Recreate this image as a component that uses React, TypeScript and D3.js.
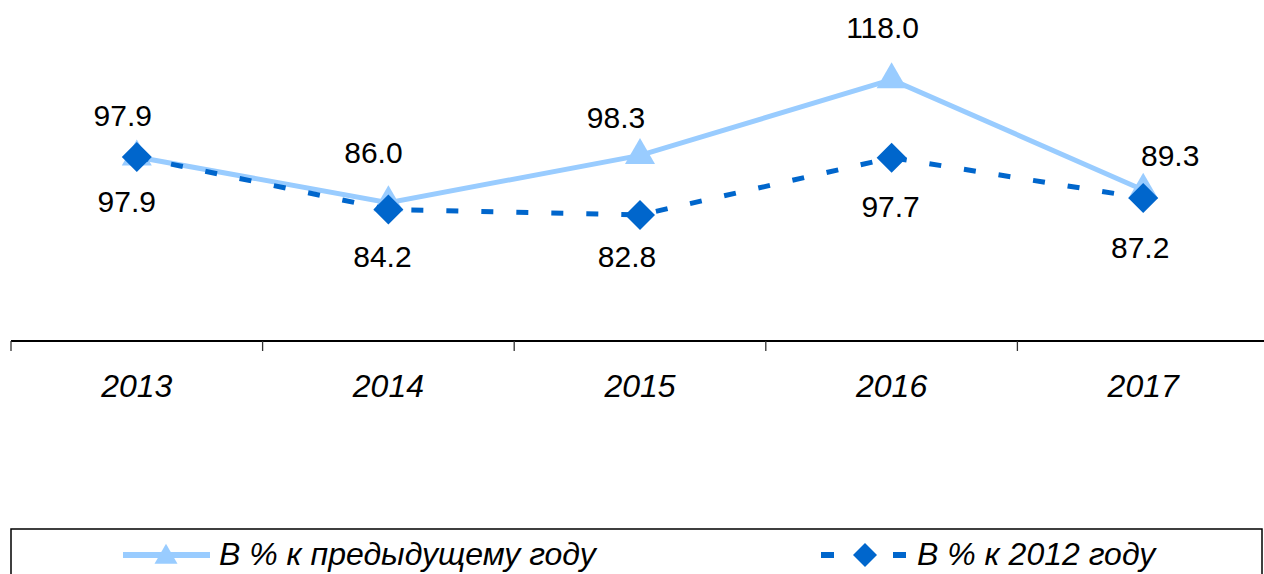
import React, { useEffect, useRef } from "react";
import * as d3 from "d3";

// chart data
const years = ["2013", "2014", "2015", "2016", "2017"];
const prevYear = [97.9, 86.0, 98.3, 118.0, 89.3];
const vs2012 = [97.9, 84.2, 82.8, 97.7, 87.2];
const seriesNames = ["В % к предыдущему году", "В % к 2012 году"];

// manual label nudges (dx, dy from the point), like in the source chart
const prevNudge = [[-14, -31], [-15, -40], [-24, -27], [-9, -42], [27, -24]];
const vs2012Nudge = [[-10, 55], [-6, 57], [-13, 52], [-1, 59], [-3, 60]];

const W = 1264, H = 574;
const LIGHT = "#99CCFF", DARK = "#0066CC";
const FONT = "'Liberation Sans', Arial, sans-serif";

export default function App() {
    const ref = useRef<SVGSVGElement>(null);

    useEffect(() => {
        const svg = d3.select(ref.current);
        svg.selectAll("*").remove();

        const x = d3.scaleBand().domain(years).range([11, 1269]);
        const y = d3.scaleLinear().domain([50, 120]).range([341, 72]);
        const cx = (d: string) => (x(d) as number) + x.bandwidth() / 2;

        // x axis
        const axis = svg.append("g").attr("transform", "translate(0,341)");
        axis.append("line")
            .attr("x1", 11).attr("x2", 1269)
            .attr("stroke", "#000").attr("stroke-width", 2);
        axis.selectAll(".tick")
            .data(years.concat(["end"]))
            .enter().append("line")
            .attr("x1", (d, i) => 11 + i * x.bandwidth())
            .attr("x2", (d, i) => 11 + i * x.bandwidth())
            .attr("y1", 0).attr("y2", 10)
            .attr("stroke", "#333").attr("stroke-width", 1.3);
        axis.selectAll(".lbl")
            .data(years)
            .enter().append("text")
            .attr("x", d => cx(d))
            .attr("y", 56)
            .attr("text-anchor", "middle")
            .style("font-family", FONT)
            .style("font-style", "italic")
            .style("font-size", "32px")
            .text(d => d);

        const line = d3.line<number>()
            .x((d, i) => cx(years[i]))
            .y(d => y(d));

        // series 1: previous year
        svg.append("path")
            .attr("d", line(prevYear))
            .attr("fill", "none")
            .attr("stroke", LIGHT)
            .attr("stroke-width", 5);
        const tri = d3.symbol().type(d3.symbolTriangle).size(390);
        svg.selectAll(".tri")
            .data(prevYear)
            .enter().append("path")
            .attr("d", tri)
            .attr("transform", (d, i) => `translate(${cx(years[i])},${y(d)})`)
            .attr("fill", LIGHT);

        // series 2: vs 2012
        svg.append("path")
            .attr("d", line(vs2012))
            .attr("fill", "none")
            .attr("stroke", DARK)
            .attr("stroke-width", 5)
            .attr("stroke-dasharray", "12 23");
        const dia = (r: number) => `M0,${-r}L${r},0L0,${r}L${-r},0Z`;
        svg.selectAll(".dia")
            .data(vs2012)
            .enter().append("path")
            .attr("d", dia(15))
            .attr("fill", DARK)
            .attr("transform", (d, i) => `translate(${cx(years[i])},${y(d)})`);

        // data labels
        const labels = (vals: number[], nudge: number[][]) =>
            svg.selectAll(null)
                .data(vals)
                .enter().append("text")
                .attr("x", (d, i) => cx(years[i]) + nudge[i][0])
                .attr("y", (d, i) => y(d) + nudge[i][1])
                .attr("text-anchor", "middle")
                .style("font-family", FONT)
                .style("font-size", "30px")
                .text(d => d.toFixed(1));
        labels(prevYear, prevNudge);
        labels(vs2012, vs2012Nudge);

        // legend
        const lg = svg.append("g");
        lg.append("rect")
            .attr("x", 11).attr("y", 529)
            .attr("width", 1251).attr("height", 80)
            .attr("fill", "none")
            .attr("stroke", "#000").attr("stroke-width", 1.5);
        lg.append("line")
            .attr("x1", 123).attr("x2", 210).attr("y1", 555).attr("y2", 555)
            .attr("stroke", LIGHT).attr("stroke-width", 6);
        lg.append("path")
            .attr("d", d3.symbol().type(d3.symbolTriangle).size(229))
            .attr("transform", "translate(166,557)").attr("fill", LIGHT);
        lg.append("line")
            .attr("x1", 821).attr("x2", 906).attr("y1", 555).attr("y2", 555)
            .attr("stroke", DARK).attr("stroke-width", 6)
            .attr("stroke-dasharray", "13 59");
        lg.append("path").attr("d", dia(12)).attr("fill", DARK)
            .attr("transform", "translate(865,555)");
        lg.selectAll(".lt")
            .data(seriesNames)
            .enter().append("text")
            .attr("x", (d, i) => (i === 0 ? 219 : 917))
            .attr("y", 565)
            .style("font-family", FONT)
            .style("font-style", "italic")
            .style("font-size", "32px")
            .text(d => d);
    }, []);

    return (
        <svg ref={ref} width={W} height={H}
            style={{ position: "absolute", left: 0, top: 0, background: "#fff" }} />
    );
}
